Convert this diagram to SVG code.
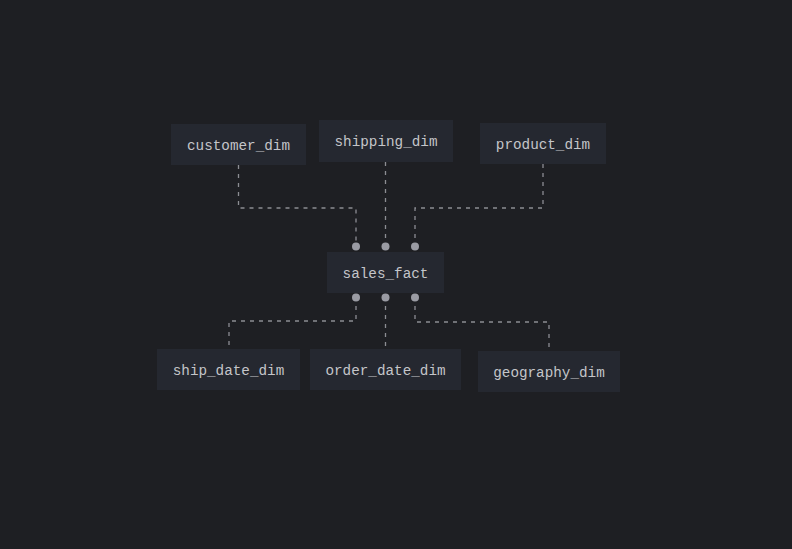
<svg xmlns="http://www.w3.org/2000/svg" width="792" height="549" viewBox="0 0 792 549">
<style>
.box{fill:#252830;}
.lbl{font-family:"Liberation Mono","DejaVu Sans Mono",monospace;font-size:14.3px;fill:#c4c5c9;text-anchor:middle;}
.conn{fill:none;stroke:#8c8d93;stroke-width:1.3;stroke-dasharray:4 5;}
.dot{fill:#9a9ba3;}
</style>
<rect width="792" height="549" fill="#1e1f23"/>
<g id="connectors">
<path class="conn" d="M238.5,165 V208 H356 V246"/>
<path class="conn" d="M385.5,162 V246"/>
<path class="conn" d="M543,164 V208 H415 V246"/>
<path class="conn" d="M356,297 V321 H229 V349"/>
<path class="conn" d="M385.5,297 V349"/>
<path class="conn" d="M415,297 V322 H549 V351"/>
<circle class="dot" cx="356" cy="246.5" r="4"/>
<circle class="dot" cx="385.5" cy="246.5" r="4"/>
<circle class="dot" cx="415" cy="246.5" r="4"/>
<circle class="dot" cx="356" cy="297.5" r="4"/>
<circle class="dot" cx="385.5" cy="297.5" r="4"/>
<circle class="dot" cx="415" cy="297.5" r="4"/>
</g>
<g id="customer_dim"><rect class="box" x="171" y="124" width="135" height="41"/><text class="lbl" x="238.5" y="150">customer_dim</text></g>
<g id="shipping_dim"><rect class="box" x="319" y="120" width="134" height="42"/><text class="lbl" x="386" y="146">shipping_dim</text></g>
<g id="product_dim"><rect class="box" x="480" y="123" width="126" height="41"/><text class="lbl" x="543" y="149">product_dim</text></g>
<g id="sales_fact"><rect class="box" x="327" y="252" width="117" height="41"/><text class="lbl" x="385.5" y="278">sales_fact</text></g>
<g id="ship_date_dim"><rect class="box" x="157" y="349" width="143" height="41"/><text class="lbl" x="228.5" y="375">ship_date_dim</text></g>
<g id="order_date_dim"><rect class="box" x="310" y="349" width="151" height="41"/><text class="lbl" x="385.5" y="375">order_date_dim</text></g>
<g id="geography_dim"><rect class="box" x="478" y="351" width="142" height="41"/><text class="lbl" x="549" y="377">geography_dim</text></g>
</svg>
